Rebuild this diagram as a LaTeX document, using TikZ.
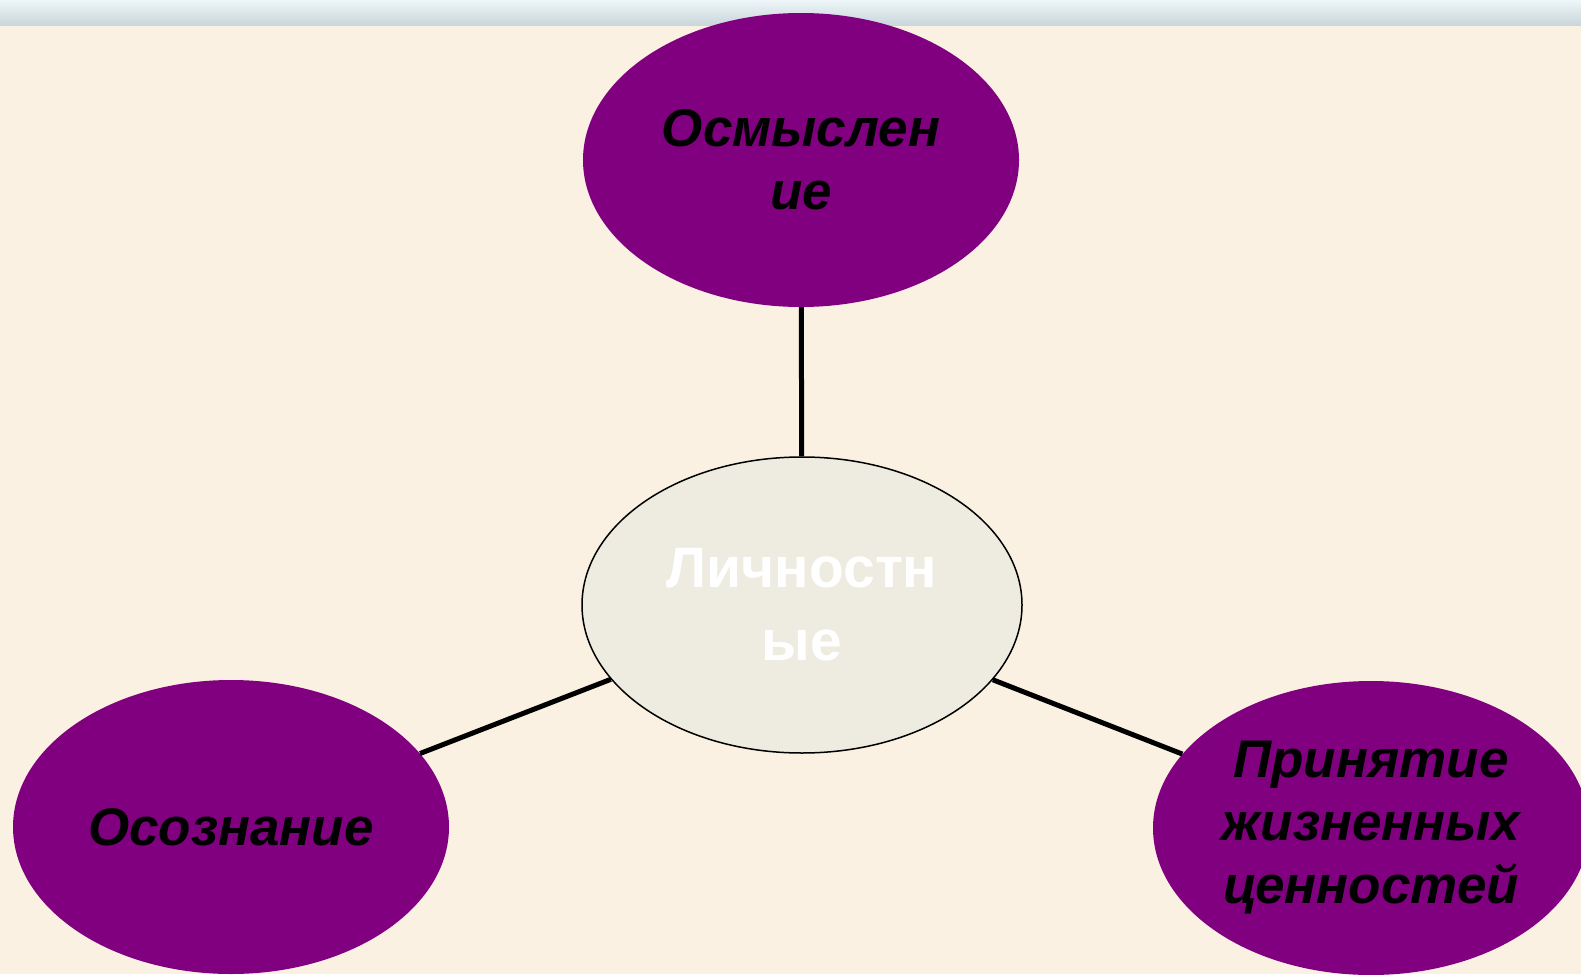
\documentclass[tikz,border=0pt]{standalone}
\usepackage{fontspec}
\setmainfont{Liberation Sans}
\usetikzlibrary{shapes.geometric}
\definecolor{bg}{HTML}{FAF1E2}
\definecolor{purp}{HTML}{800080}
\definecolor{centerfill}{HTML}{EEEBE0}
\definecolor{bandtop}{HTML}{EEF6F8}
\definecolor{bandbot}{HTML}{C8D5DA}
\tikzset{
  outer/.style={ellipse, fill=purp, inner sep=0pt, minimum width=436pt, minimum height=294pt,
    align=center, text=black, font=\fontsize{53}{63}\selectfont\bfseries\itshape},
  inner/.style={ellipse, fill=centerfill, draw=black, line width=1.5pt, inner sep=0pt,
    minimum width=440pt, minimum height=296pt, align=center, text=white,
    font=\fontsize{57}{70}\selectfont\bfseries},
  link/.style={line width=5pt, draw=black}
}
\begin{document}
\begin{tikzpicture}[x=1pt,y=-1pt]
\useasboundingbox (0,0) rectangle (1581,974);
\clip (0,0) rectangle (1581,974);
\fill[bg] (0,0) rectangle (1581,974);
\shade[top color=bandtop, bottom color=bandbot] (0,0) rectangle (1581,26);
\node[inner] (c) at (802,605) {Личностн\\[3pt]ые};
\node[outer] (t) at (801,160) {Осмыслен\\ие};
\node[outer] (l) at (231,827) {Осознание};
\node[outer] (r) at (1371,828) {Принятие\\жизненных\\ценностей};
\draw[link] (c) -- (t);
\draw[link] (c) -- (l);
\draw[link] (c) -- (r);
\end{tikzpicture}
\end{document}
